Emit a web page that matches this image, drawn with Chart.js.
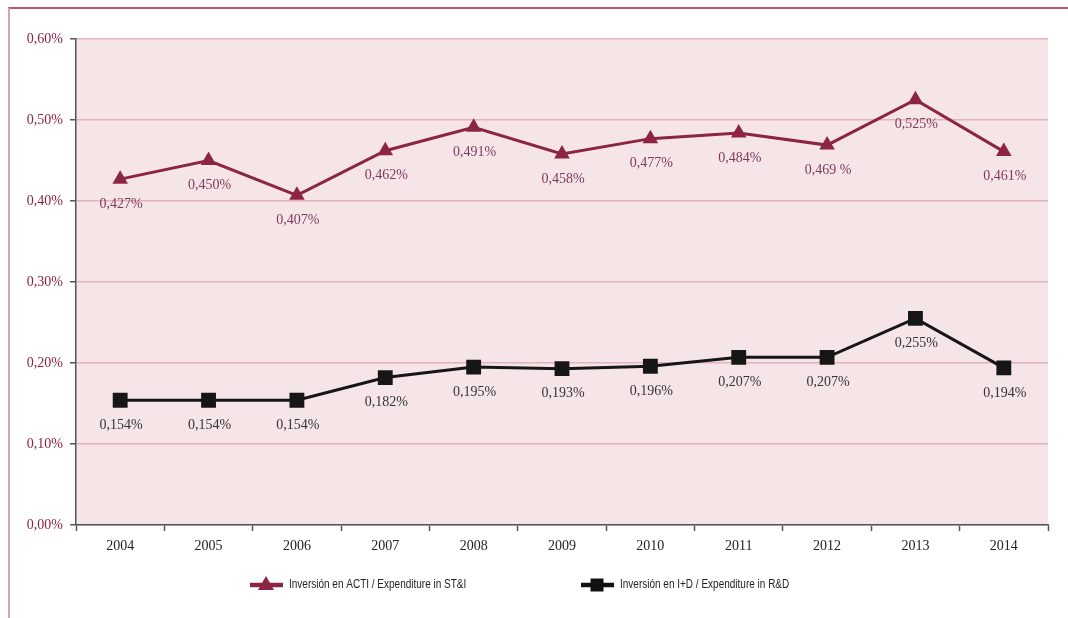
<!DOCTYPE html>
<html>
<head>
<meta charset="utf-8">
<script src="https://cdn.jsdelivr.net/npm/chart.js@4/dist/chart.umd.min.js"></script>
<style>
  html, body { margin: 0; padding: 0; background: #fff; }
  #wrap { position: relative; width: 1068px; height: 618px; }
  #frame { position: absolute; left: 8px; top: 7px; right: 0; bottom: 0;
           border-top: 2px solid #b7557a; border-left: 2px solid #d7a2b6; }
  canvas { position: absolute; left: 0; top: 0; }
</style>
</head>
<body>
<div id="wrap">
  <div id="frame"></div>
  <canvas id="chart" width="1068" height="618"></canvas>
</div>
<script>
const years = ["2004", "2005", "2006", "2007", "2008", "2009", "2010", "2011", "2012", "2013", "2014"];
const actiValues = [0.427, 0.450, 0.407, 0.462, 0.491, 0.458, 0.477, 0.484, 0.469, 0.525, 0.461];
const rdValues = [0.154, 0.154, 0.154, 0.182, 0.195, 0.193, 0.196, 0.207, 0.207, 0.255, 0.194];
const actiLabels = ["0,427%", "0,450%", "0,407%", "0,462%", "0,491%", "0,458%", "0,477%", "0,484%", "0,469 %", "0,525%", "0,461%"];
const rdLabels = ["0,154%", "0,154%", "0,154%", "0,182%", "0,195%", "0,193%", "0,196%", "0,207%", "0,207%", "0,255%", "0,194%"];
const legendNames = ["Inversión en ACTI / Expenditure in ST&I", "Inversión en I+D / Expenditure in R&D"];

const MAROON = "#8c2443";
const SERIF = "'Liberation Serif', 'DejaVu Serif', serif";
const SANS = "'Liberation Sans', 'DejaVu Sans', sans-serif";

// plot background
const bgPlugin = {
    id: "plotBg",
    beforeDraw(chart) {
        const { ctx, chartArea: a } = chart;
        ctx.save();
        ctx.fillStyle = "#f6e5e7";
        ctx.fillRect(a.left, a.top, a.right - a.left, a.bottom - a.top);
        ctx.restore();
    }
};

// value labels under each point
const valueLabels = {
    id: "valueLabels",
    afterDatasetsDraw(chart) {
        const ctx = chart.ctx;
        ctx.save();
        ctx.font = "14px " + SERIF;
        ctx.textAlign = "center";
        ctx.textBaseline = "middle";
        chart.data.datasets.forEach((ds, i) => {
            const meta = chart.getDatasetMeta(i);
            ctx.fillStyle = ds.labelColor;
            meta.data.forEach((pt, j) => {
                ctx.fillText(ds.valueText[j], pt.x + 1, pt.y + 25);
            });
        });
        ctx.restore();
    }
};

// legend drawn like the original (line + marker + condensed text)
const customLegend = {
    id: "customLegend",
    afterDraw(chart) {
        const ctx = chart.ctx;
        const y = 585;
        const items = [
            { x: 250, color: MAROON, shape: "triangle", text: legendNames[0] },
            { x: 581, color: "#111", shape: "rect", text: legendNames[1] }
        ];
        ctx.save();
        items.forEach((it) => {
            ctx.strokeStyle = it.color;
            ctx.fillStyle = it.color;
            ctx.lineWidth = 4.5;
            ctx.beginPath();
            ctx.moveTo(it.x, y);
            ctx.lineTo(it.x + 33, y);
            ctx.stroke();
            const cx = it.x + 16;
            ctx.beginPath();
            if (it.shape === "triangle") {
                ctx.moveTo(cx, y - 9);
                ctx.lineTo(cx + 8, y + 5);
                ctx.lineTo(cx - 8, y + 5);
                ctx.closePath();
            } else {
                ctx.rect(cx - 6.5, y - 6.5, 13, 13);
            }
            ctx.fill();
            ctx.save();
            ctx.translate(it.x + 39, y);
            ctx.scale(0.8, 1);
            ctx.fillStyle = "#222";
            ctx.font = "12.5px " + SANS;
            ctx.textAlign = "left";
            ctx.textBaseline = "middle";
            ctx.fillText(it.text, 0, 0);
            ctx.restore();
        });
        ctx.restore();
    }
};

new Chart(document.getElementById("chart"), {
    type: "line",
    data: {
        labels: years,
        datasets: [
            {
                label: legendNames[0],
                data: actiValues,
                valueText: actiLabels,
                labelColor: "#7c3a5f",
                borderColor: MAROON,
                backgroundColor: MAROON,
                borderWidth: 3,
                pointStyle: "triangle",
                pointRadius: 9,
                pointHoverRadius: 9,
                pointBorderWidth: 0,
                tension: 0
            },
            {
                label: legendNames[1],
                data: rdValues,
                valueText: rdLabels,
                labelColor: "#333",
                borderColor: "#161616",
                backgroundColor: "#161616",
                borderWidth: 3,
                pointStyle: "rect",
                pointRadius: 10.5,
                pointHoverRadius: 10.5,
                pointBorderWidth: 0,
                tension: 0
            }
        ]
    },
    options: {
        responsive: false,
        animation: false,
        layout: { padding: { top: 39, right: 20, left: 0, bottom: 0 } },
        plugins: {
            legend: { display: false },
            tooltip: { enabled: false }
        },
        scales: {
            x: {
                offset: true,
                afterFit: (s) => { s.height = 93; },
                grid: {
                    offset: true,
                    drawOnChartArea: false,
                    tickLength: 6,
                    tickColor: "#555",
                    tickWidth: 1.5
                },
                border: { color: "#555", width: 1.5 },
                ticks: {
                    color: "#222",
                    font: { family: SERIF, size: 14 },
                    padding: 7
                }
            },
            y: {
                min: 0,
                max: 0.6,
                afterFit: (s) => { s.width = 76; },
                grid: {
                    color: "#e2b3bd",
                    lineWidth: 1.5,
                    tickLength: 6,
                    tickColor: "#555"
                },
                border: { color: "#555", width: 1.5 },
                ticks: {
                    stepSize: 0.1,
                    color: "#8b2444",
                    font: { family: SERIF, size: 14 },
                    padding: 7,
                    callback: (v) => v.toFixed(2).replace(".", ",") + "%"
                }
            }
        }
    },
    plugins: [bgPlugin, valueLabels, customLegend]
});
</script>
</body>
</html>
